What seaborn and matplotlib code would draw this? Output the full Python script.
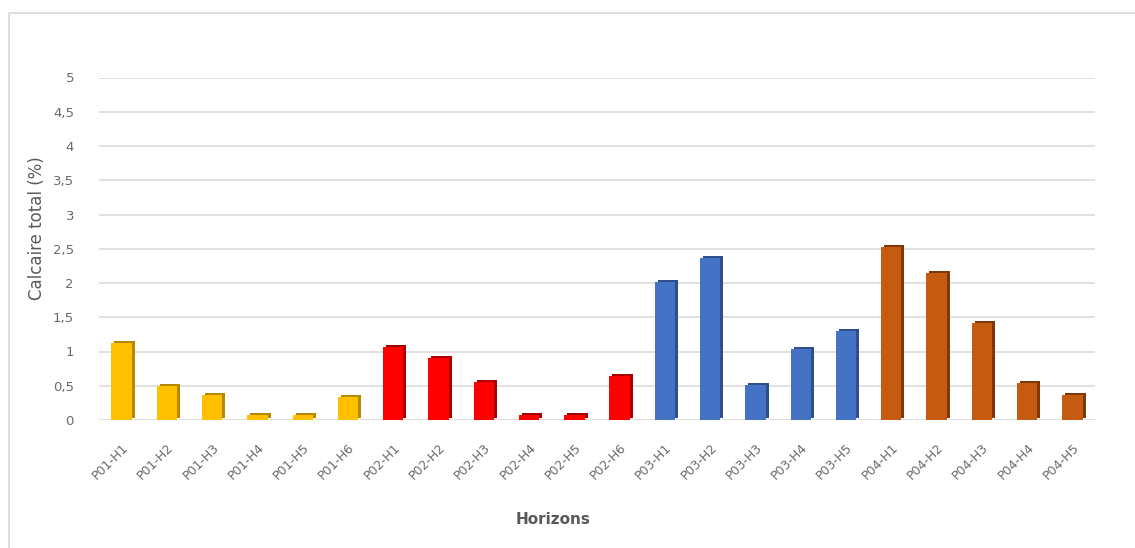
import matplotlib
matplotlib.use("Agg")
import matplotlib.pyplot as plt
import matplotlib.transforms as mtransforms
from matplotlib.patches import Rectangle
import seaborn as sns
import pandas as pd

# Total carbonate content per soil horizon, grouped by profile
horizons = ["P01-H1", "P01-H2", "P01-H3", "P01-H4", "P01-H5", "P01-H6",
            "P02-H1", "P02-H2", "P02-H3", "P02-H4", "P02-H5", "P02-H6",
            "P03-H1", "P03-H2", "P03-H3", "P03-H4", "P03-H5",
            "P04-H1", "P04-H2", "P04-H3", "P04-H4", "P04-H5"]
profiles = ["P01"] * 6 + ["P02"] * 6 + ["P03"] * 5 + ["P04"] * 5
calcaire = [1.12, 0.49, 0.36, 0.08, 0.08, 0.33,
            1.07, 0.90, 0.56, 0.08, 0.08, 0.64,
            2.02, 2.36, 0.51, 1.03, 1.30,
            2.53, 2.14, 1.41, 0.54, 0.36]
y_ticks = [0, 0.5, 1, 1.5, 2, 2.5, 3, 3.5, 4, 4.5, 5]
y_tick_labels = ["0", "0,5", "1", "1,5", "2", "2,5", "3", "3,5", "4", "4,5", "5"]

front_colors = {"P01": "#FFC000", "P02": "#FF0000", "P03": "#4472C4", "P04": "#C55A11"}
side_colors = {"P01": "#B58A00", "P02": "#A80000", "P03": "#2E4F8C", "P04": "#7F370A"}

df = pd.DataFrame({"horizon": horizons, "profil": profiles, "calcaire": calcaire})

sns.set_theme(style="white")
plt.rcParams["font.family"] = ["DejaVu Sans"]

W, H = 1135, 548
fig = plt.figure(figsize=(W / 100, H / 100), dpi=100)
ax = fig.add_axes([99 / W, 1 - 420 / H, (1095 - 99) / W, (420 - 77.5) / H])

bar_width = 0.45
# darker copies shifted up-right give the bars an extruded, 3D look
sns.barplot(data=df, x="horizon", y="calcaire", hue="profil", palette=side_colors,
            dodge=False, width=bar_width, saturation=1, errorbar=None,
            legend=False, ax=ax)
shift = mtransforms.ScaledTranslation(3 / 100, 2 / 100, fig.dpi_scale_trans)
for p in ax.patches:
    p.set_transform(ax.transData + shift)
    p.set_linewidth(0)
n_side = len(ax.patches)
sns.barplot(data=df, x="horizon", y="calcaire", hue="profil", palette=front_colors,
            dodge=False, width=bar_width, saturation=1, errorbar=None,
            legend=False, ax=ax)
for p in ax.patches[n_side:]:
    p.set_linewidth(0)

ax.set_ylim(0, 5)
ax.set_xlim(-0.5, len(horizons) - 0.5)
ax.set_yticks(y_ticks)
ax.set_yticklabels(y_tick_labels)
ax.yaxis.grid(True, color="#D9D9D9", linewidth=1.1)
ax.xaxis.grid(False)
ax.set_axisbelow(True)
for s in ax.spines.values():
    s.set_visible(False)
ax.tick_params(axis="y", length=0, pad=18, labelsize=9.5, labelcolor="#6A6A6A")
ax.tick_params(axis="x", length=0, pad=15, labelsize=9, labelcolor="#6A6A6A")
plt.setp(ax.get_xticklabels(), rotation=45, ha="right", va="top", rotation_mode="anchor")
ax.set_xlabel("")
ax.set_ylabel("")

fig.text(37 / W, 1 - 228 / H, "Calcaire total (%)", rotation=90, ha="center", va="center",
         fontsize=12, color="#595959")
fig.text(553 / W, 1 - 519 / H, "Horizons", ha="center", va="center",
         fontsize=11, fontweight="bold", color="#595959")

# chart frame
fig.add_artist(Rectangle((8.5 / W, -0.05), 1.2, 1 - 12.5 / H + 0.05, transform=fig.transFigure,
                         fill=False, edgecolor="#D9D9D9", linewidth=1.2))

fig.savefig("out.png", dpi=100)
